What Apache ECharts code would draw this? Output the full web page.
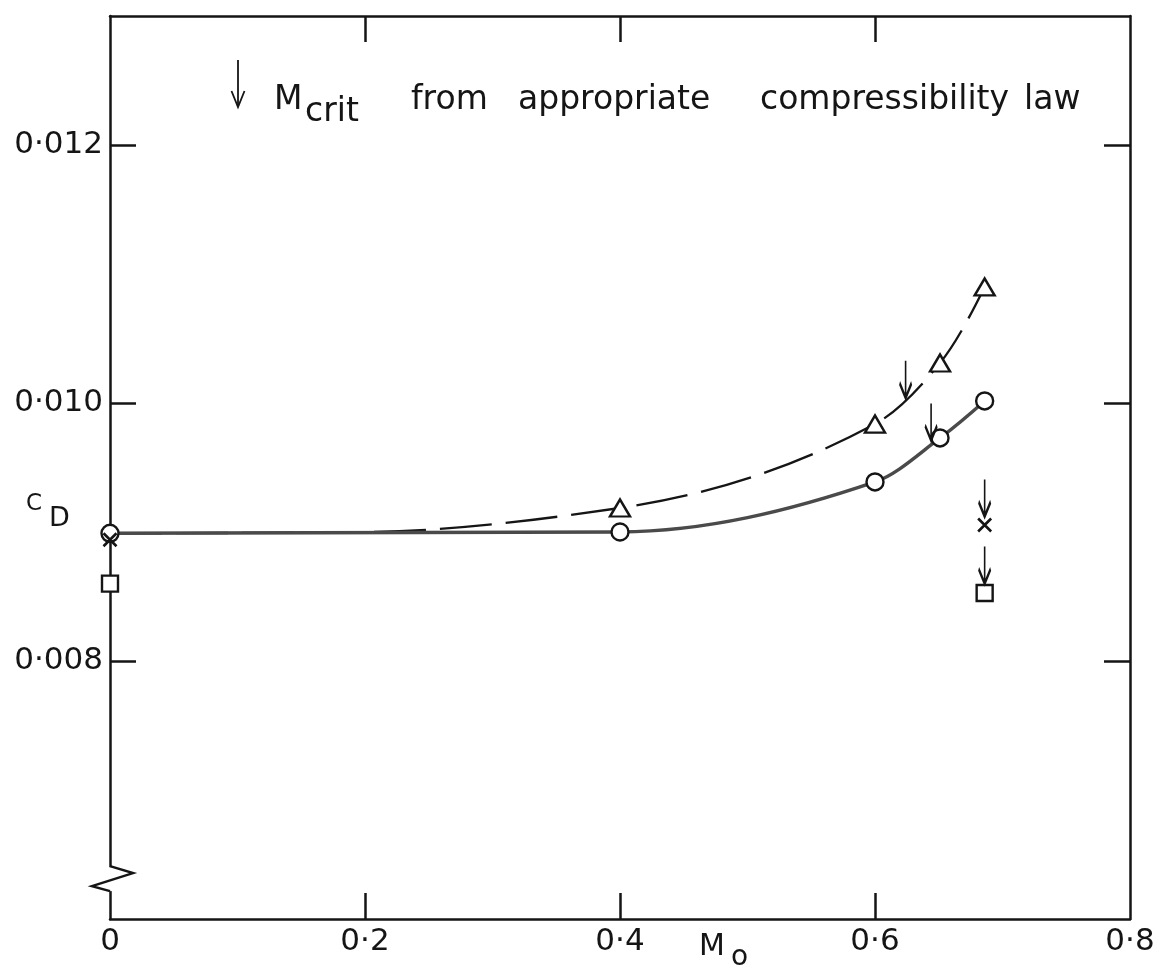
<!DOCTYPE html>
<html><head><meta charset="utf-8">
<script src="https://cdn.jsdelivr.net/npm/echarts@6/dist/echarts.min.js"></script>
<style>html,body{margin:0;padding:0;background:#fff}#c{width:1161px;height:973px}</style>
</head><body><div id="c"></div>
<script>
// ---- data ----
const circleM = [0, 0.4, 0.6, 0.651, 0.686];
const circleCD = [0.00899, 0.00900, 0.009388, 0.009729, 0.010016];
const triangleM = [0.4, 0.6, 0.651, 0.686];
const triangleCD = [0.009186, 0.009837, 0.01031, 0.0109];
const dashedStartM = [0, 0.2];
const dashedStartCD = [0.00899, 0.00900];
const crossM = [0, 0.686];
const crossCD = [0.00894, 0.009054];
const squareM = [0, 0.686];
const squareCD = [0.0086, 0.008527];
const mcritM = [0.624, 0.644, 0.686, 0.686];
const mcritCD = [0.01004, 0.00971, 0.00912, 0.0086];
const xTickValues = [0, 0.2, 0.4, 0.6, 0.8];
const xTickLabels = ['0', '0·2', '0·4', '0·6', '0·8'];
const xTickMarks = [0.2, 0.4, 0.6];
const yTickValues = [0.008, 0.010, 0.012];
const yTickLabels = ['0·008', '0·010', '0·012'];

const FONT = '"DejaVu Sans", sans-serif';
const INK = '#151515';
const zip = (a, b) => a.map((v, i) => [v, b[i]]);
const lab = (vals, labels) => v => {
  const i = vals.findIndex(t => Math.abs(t - v) < 1e-9);
  return i >= 0 ? labels[i] : '';
};

// monotone cubic (Fritsch–Butland) path through pixel points
function monotonePath(p) {
  const n = p.length, h = [], d = [], m = [];
  for (let i = 0; i < n - 1; i++) { h[i] = p[i + 1][0] - p[i][0]; d[i] = (p[i + 1][1] - p[i][1]) / h[i]; }
  for (let i = 1; i < n - 1; i++) {
    if (d[i - 1] * d[i] <= 0) { m[i] = 0; continue; }
    const w1 = 2 * h[i] + h[i - 1], w2 = h[i] + 2 * h[i - 1];
    m[i] = (w1 + w2) / (w1 / d[i - 1] + w2 / d[i]);
  }
  const endT = (h0, h1, d0, d1) => {
    let t = ((2 * h0 + h1) * d0 - h0 * d1) / (h0 + h1);
    if (t * d0 <= 0) t = 0; else if (d0 * d1 <= 0 && Math.abs(t) > 3 * Math.abs(d0)) t = 3 * d0;
    return t;
  };
  m[0] = n > 2 ? endT(h[0], h[1], d[0], d[1]) : d[0];
  m[n - 1] = n > 2 ? endT(h[n - 2], h[n - 3], d[n - 2], d[n - 3]) : d[n - 2];
  let s = 'M' + p[0][0] + ' ' + p[0][1];
  for (let i = 0; i < n - 1; i++) {
    const a = p[i], b = p[i + 1], k = h[i] / 3;
    s += 'C' + (a[0] + k) + ' ' + (a[1] + m[i] * k) + ' ' + (b[0] - k) + ' ' + (b[1] - m[i + 1] * k) + ' ' + b[0] + ' ' + b[1];
  }
  return s;
}
function curveSeries(xs, ys, style, z) {
  return {
    type: 'custom', z: z, silent: true, data: zip(xs, ys), encode: { x: 0, y: 1 },
    renderItem: (params, api) => {
      if (params.dataIndex !== 0) return null;
      const pts = xs.map((x, i) => api.coord([x, ys[i]]));
      return { type: 'path', shape: { pathData: monotonePath(pts) }, style: Object.assign({ fill: null }, style) };
    }
  };
}

const axisLine = { show: true, onZero: false, lineStyle: { color: INK, width: 2.5 } };
function xAxis(pos, withLabels) {
  return {
    type: 'value', position: pos, min: 0, max: 0.8, interval: 0.2,
    axisLine: axisLine, splitLine: { show: false },
    axisTick: { show: true, inside: true, length: 26, customValues: xTickMarks, lineStyle: { color: INK, width: 2.5 } },
    axisLabel: withLabels ? { show: true, customValues: xTickValues, formatter: lab(xTickValues, xTickLabels),
      fontFamily: FONT, fontSize: 31, color: INK, margin: 7 } : { show: false }
  };
}
function yAxis(pos, withLabels) {
  return {
    type: 'value', position: pos, min: 0.006, max: 0.013, interval: 0.001,
    axisLine: axisLine, splitLine: { show: false },
    axisTick: { show: true, inside: true, length: 26, customValues: yTickValues, lineStyle: { color: INK, width: 2.5 } },
    axisLabel: withLabels ? { show: true, customValues: yTickValues, formatter: lab(yTickValues, yTickLabels),
      fontFamily: FONT, fontSize: 31, color: INK, margin: 7 } : { show: false }
  };
}

const openItem = { color: '#fff', borderColor: INK, borderWidth: 2.4, opacity: 1 };

const chart = echarts.init(document.getElementById('c'));
chart.setOption({
  backgroundColor: '#fff',
  animation: false,
  grid: { left: 110, right: 31, top: 16, bottom: 54, containLabel: false },
  xAxis: [xAxis('bottom', true), xAxis('top', false)],
  yAxis: [yAxis('left', true), yAxis('right', false)],
  series: [
    curveSeries(dashedStartM.concat(triangleM), dashedStartCD.concat(triangleCD),
      { stroke: INK, lineWidth: 2.3, lineDash: [52, 14] }, 2),
    curveSeries(circleM, circleCD, { stroke: '#4a4a4a', lineWidth: 3.4 }, 3),
    { type: 'scatter', z: 4, data: zip(circleM, circleCD), symbol: 'circle', symbolSize: 17, itemStyle: openItem },
    { type: 'scatter', z: 4, data: zip(triangleM, triangleCD), symbol: 'triangle', symbolSize: [20, 17], itemStyle: openItem },
    { type: 'scatter', z: 4, data: zip(squareM, squareCD), symbol: 'rect', symbolSize: 16, itemStyle: openItem },
    { type: 'scatter', z: 5, data: zip(crossM, crossCD), symbol: 'path://M0 0L10 10M10 0L0 10', symbolSize: 13,
      itemStyle: { color: 'none', borderColor: INK, borderWidth: 2.6, opacity: 1 } },
    { type: 'scatter', z: 6, data: zip(mcritM, mcritCD), symbol: 'path://M6 0L6 40M0 24L6 40L12 24',
      symbolSize: [12, 37], symbolOffset: [0, -18.5],
      itemStyle: { color: 'none', borderColor: INK, borderWidth: 2.8, opacity: 1 } }
  ]
});

// axis-break zigzag and annotations
const x0 = chart.convertToPixel({ xAxisIndex: 0 }, 0);
const yA = chart.convertToPixel({ yAxisIndex: 0 }, 0.00641);
function txt(text, x, y, size) {
  return { type: 'text', z: 20, style: { text: text, x: x, y: y, fill: INK, font: size + 'px ' + FONT, textAlign: 'left', textVerticalAlign: 'middle' } };
}
chart.setOption({
  graphic: [
    { type: 'rect', z: 10, shape: { x: x0 - 3, y: yA + 1, width: 6, height: 24 }, style: { fill: '#fff' } },
    { type: 'polyline', z: 11, shape: { points: [[x0, yA], [x0 + 23, yA + 7], [x0 - 18, yA + 20], [x0, yA + 25]] },
      style: { stroke: INK, lineWidth: 2.5, fill: null } },
    // legend arrow
    { type: 'polyline', z: 11, shape: { points: [[238, 60], [238, 107]] }, style: { stroke: INK, lineWidth: 1.8, fill: null } },
    { type: 'polyline', z: 11, shape: { points: [[231.5, 91], [238, 107], [244.5, 91]] }, style: { stroke: INK, lineWidth: 1.8, fill: null } },
    txt('M', 274, 100, 33),
    txt('crit', 305, 112, 33),
    txt('from', 411, 100, 33),
    txt('appropriate', 518, 100, 33),
    txt('compressibility', 760, 100, 33),
    txt('law', 1024, 100, 33),
    txt('C', 26, 504, 23),
    txt('D', 49, 519, 27),
    txt('M', 699, 947, 30),
    txt('o', 731, 958, 28)
  ]
});
</script></body></html>
